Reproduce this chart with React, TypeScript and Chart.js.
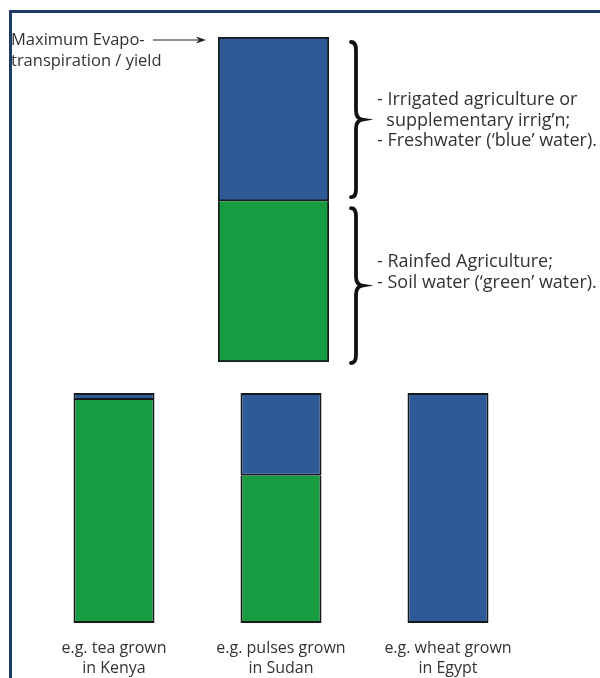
import React, { useEffect, useRef } from "react";
import { Chart, registerables } from "chart.js";

Chart.register(...registerables);

// ---- data ----
const topCategories = ["Maximum Evapotranspiration / yield"];
const topGreen = [49.5]; // soil water ('green' water) share
const topBlue = [50.5]; // freshwater ('blue' water) share

const bottomCategories = [
  ["e.g. tea grown", "in Kenya"],
  ["e.g. pulses grown", "in Sudan"],
  ["e.g. wheat grown", "in Egypt"],
];
const bottomGreen = [97, 64, 0];
const bottomBlue = [3, 36, 100];

const leftLabel = ["Maximum Evapo-", "transpiration / yield"];
const blueNote = ["- Irrigated agriculture or", "\u00a0\u00a0supplementary irrig\u2019n;", "- Freshwater (\u2018blue\u2019 water)."];
const greenNote = ["- Rainfed Agriculture;", "- Soil water (\u2018green\u2019 water)."];

const BLUE = "#2e5b98";
const GREEN = "#189c42";
const EDGE = "#161a1c";
const TEXT = "#333333";
const FONT = "'Open Sans', sans-serif";

function drawBrace(ctx: CanvasRenderingContext2D, x: number, top: number, bottom: number) {
  const mid = (top + bottom) / 2;
  ctx.save();
  ctx.strokeStyle = "#111";
  ctx.lineWidth = 3.8;
  ctx.lineCap = "round";
  ctx.beginPath();
  ctx.moveTo(x - 5, top);
  ctx.quadraticCurveTo(x, top, x, top + 8);
  ctx.lineTo(x, mid - 9);
  ctx.quadraticCurveTo(x, mid - 1, x + 6, mid);
  ctx.quadraticCurveTo(x, mid + 1, x, mid + 9);
  ctx.lineTo(x, bottom - 8);
  ctx.quadraticCurveTo(x, bottom, x - 5, bottom);
  ctx.stroke();
  ctx.restore();
}

const bracePlugin = {
  id: "braces",
  afterDatasetsDraw(chart: any) {
    const { ctx, chartArea, scales } = chart;
    const y = scales.y;
    const g = topGreen[0];
    const b = topBlue[0];
    const bx = chartArea.right + 27;
    drawBrace(ctx, bx, y.getPixelForValue(g + b) + 5, y.getPixelForValue(g) - 4);
    drawBrace(ctx, bx, y.getPixelForValue(g) + 7, y.getPixelForValue(0) + 1);
    // arrow to maximum
    const ay = y.getPixelForValue(g + b) + 3;
    const tip = chartArea.left - 12;
    ctx.save();
    ctx.strokeStyle = "#222";
    ctx.fillStyle = "#222";
    ctx.lineWidth = 1.2;
    ctx.beginPath();
    ctx.moveTo(tip - 53, ay);
    ctx.lineTo(tip - 6, ay);
    ctx.stroke();
    ctx.beginPath();
    ctx.moveTo(tip, ay);
    ctx.lineTo(tip - 10, ay - 3.5);
    ctx.lineTo(tip - 7, ay);
    ctx.lineTo(tip - 10, ay + 3.5);
    ctx.closePath();
    ctx.fill();
    ctx.restore();
  },
};

function TopChart() {
  const ref = useRef<HTMLCanvasElement>(null);
  useEffect(() => {
    const chart = new Chart(ref.current!, {
      type: "bar",
      data: {
        labels: topCategories,
        datasets: [
          { label: "green", data: topGreen, backgroundColor: GREEN, borderColor: EDGE, borderWidth: 2, borderSkipped: "end" },
          { label: "blue", data: topBlue, backgroundColor: BLUE, borderColor: EDGE, borderWidth: 2, borderSkipped: false },
        ],
      },
      options: {
        animation: false,
        responsive: false,
        layout: { padding: { left: 218, right: 271, top: 37, bottom: 18 } },
        plugins: { legend: { display: false }, tooltip: { enabled: false } },
        scales: {
          x: { stacked: true, display: false },
          y: { stacked: true, display: false, min: 0, max: 100 },
        },
        datasets: { bar: { barPercentage: 1, categoryPercentage: 1 } },
      },
      plugins: [bracePlugin],
    } as any);
    return () => chart.destroy();
  }, []);
  return <canvas ref={ref} width={600} height={380} style={{ position: "absolute", left: 0, top: 0 }} />;
}

function BottomChart() {
  const ref = useRef<HTMLCanvasElement>(null);
  useEffect(() => {
    const chart = new Chart(ref.current!, {
      type: "bar",
      data: {
        labels: bottomCategories,
        datasets: [
          { label: "green", data: bottomGreen, backgroundColor: GREEN, borderColor: EDGE, borderWidth: 2, borderSkipped: "end" },
          { label: "blue", data: bottomBlue, backgroundColor: BLUE, borderColor: EDGE, borderWidth: 2, borderSkipped: false },
        ],
      },
      options: {
        animation: false,
        responsive: false,
        layout: { padding: { left: 30.5, right: 68.5, top: 13, bottom: 0 } },
        plugins: { legend: { display: false }, tooltip: { enabled: false } },
        scales: {
          x: {
            stacked: true,
            grid: { display: false, drawTicks: false },
            border: { display: false },
            ticks: {
              color: TEXT,
              padding: 15,
              maxRotation: 0,
              autoSkip: false,
              font: { family: FONT, size: 16, lineHeight: "20px" },
            },
            afterFit: (s: any) => {
              s.height = 55;
            },
          },
          y: { stacked: true, display: false, min: 0, max: 100 },
        },
        datasets: { bar: { barPercentage: 0.97, categoryPercentage: 0.5 } },
      },
    } as any);
    return () => chart.destroy();
  }, []);
  return <canvas ref={ref} width={600} height={298} style={{ position: "absolute", left: 0, top: 380 }} />;
}

function TextBlock({ lines, left, top, size }: { lines: string[]; left: number; top: number; size: number }) {
  return (
    <div
      style={{
        position: "absolute",
        left,
        top,
        fontFamily: FONT,
        fontSize: size,
        lineHeight: "20.5px",
        color: TEXT,
        whiteSpace: "pre",
      }}
    >
      {lines.map((l, i) => (
        <div key={i}>{l}</div>
      ))}
    </div>
  );
}

export default function App() {
  return (
    <div style={{ position: "absolute", left: 0, top: 0, width: 600, height: 678, overflow: "hidden", background: "#fff" }}>
      <div
        style={{
          position: "absolute",
          left: 9,
          top: 10,
          width: 620,
          height: 700,
          borderTop: "3px solid #1d3a68",
          borderLeft: "3px solid #1d3a68",
        }}
      />
      <TopChart />
      <BottomChart />
      <TextBlock lines={leftLabel} left={11} top={29} size={16.5} />
      <TextBlock lines={blueNote} left={377} top={88} size={18} />
      <TextBlock lines={greenNote} left={377} top={250} size={18} />
    </div>
  );
}
